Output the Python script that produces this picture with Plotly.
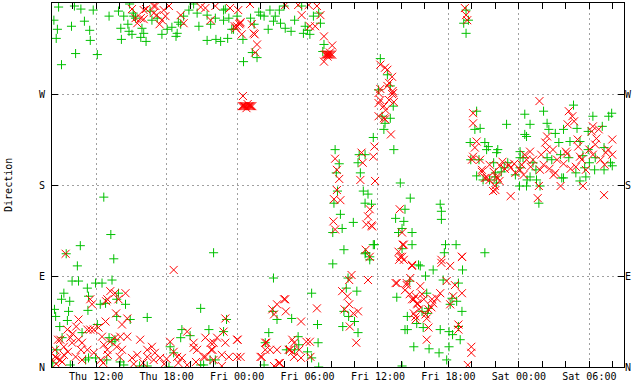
import plotly.graph_objects as go
import pandas as pd

# Thursday used as day zero; hours are counted from Thu 00:00
BASE = pd.Timestamp("2015-01-01")

# (hours since Thu 00:00, direction in degrees)
green_obs = [
    (8.8,356),(10.15,357),(10.7,354),(11.75,353),(8.4,343),(8.7,334),(8.6,325),(9.9,337),(11.0,342),(11.45,333),(11.5,323),(10.25,310),(12.1,309),(9.05,299),(13.1,347),(13.9,352),(14.35,347),(14.85,359),(14.7,339),(14.1,335),(14.8,332),(15.05,329),(14.15,324),(15.2,347),(15.8,326),(16.25,322),(16.05,330),(16.75,343),
    (15.15,350),(15.35,345),(15.9,335),(16.6,352),(17.2,345),(17.6,329),(18.05,334),(18.45,336),(18.9,330),(18.8,327),(19.2,339),(19.45,347),(19.9,353),(20.3,359),(20.6,350),(20.75,337),(21.45,348),(21.75,339),(21.45,323),(22.2,324),(22.6,322),(23.2,325),(22.85,343),(23.3,345),(23.0,354),(22.15,345),(23.55,334),(19.0,341),
    (22.85,353),(23.7,334),(24.0,347),(24.5,324),(25.15,345),(25.45,339),(25.85,351),(26.0,348),(26.3,347),(26.8,353),(26.65,334),(27.25,347),(27.1,342),(27.7,340),(28.1,335),(28.6,332),(28.9,343),(29.65,330),(30.0,333),(30.2,329),(29.8,337),(30.5,347),(30.95,350),(31.1,340),(25.7,306),(25.3,311),(24.55,302),(31.4,319),(31.3,312),(29.5,357),(28.0,357),(27.6,353),
    (36.2,305),(36.05,274),(36.8,289),(37.05,278),(37.3,258),(36.35,248),(37.05,246),(36.6,241),(36.5,235),(35.6,227),(37.35,215),
    (43.3,340),(43.7,343),(43.5,330),(43.5,353),(44.4,253),
    (32.35,215),(32.7,201),(32.45,192),(32.55,174),(32.25,162),(32.8,151),(32.95,137),(32.15,133),(33.1,116),(34.4,210),(34.9,210),(34.3,202),(34.5,192),(34.75,174),(35.15,171),(34.9,162),(35.45,161),(33.9,143),(35.6,121),(35.7,121),(34.9,112),(35.3,109),(37.9,182),(38.75,167),(38.3,156),(37.5,147),(38.2,144),(37.75,133),(38.9,133),(38.05,137),(38.9,121),(38.05,117),
    (41.3,161),(41.4,154),(41.4,146),(41.75,121),(42.65,121),(41.65,113),(45.1,113),
    (44.25,235),(44.7,236),(43.85,222),(45.1,222),(45.25,215),(44.6,205),(43.9,205),(45.85,202),(46.1,212),(46.0,192),(44.4,189),(45.5,185),
    (45.4,218),(46.2,215),(46.95,240),(48.1,213),(48.5,230),(48.65,228),(48.5,250),(48.95,240),(50.1,253),(50.4,241),(50.55,235),(51.1,231),(51.4,222),(51.8,235),(52.35,223),(52.65,259),(52.95,236),(53.2,223),(53.9,233),(54.3,248),(53.9,215),(55.1,238),(55.65,248),(55.9,251),(55.25,217),(55.8,202),(55.95,199),(55.25,195),(54.5,207),(53.7,188),(52.85,192),(51.8,187),(49.8,179),(49.5,185),(49.2,202),(48.35,207),(48.05,179),(48.65,179),(49.7,162),(49.45,195),(47.7,190),(48.1,197),(47.05,202),(46.75,197),(46.5,193),(45.95,188),(44.95,185),(46.1,182),(48.1,207),(50.4,207),(50.8,205),(51.55,210),(52.25,207),(53.45,209),(53.6,197),(54.0,202),(54.45,195),(53.2,184),(51.65,187),(48.7,185),(48.95,188),
    (8.45,57),(8.55,50),(9.05,67),(9.25,73),(9.75,65),(9.65,55),(9.55,46),(8.9,40),(9.1,29),(8.65,17),(10.4,100),(9.95,85),(10.5,85),(11.25,78),(11.35,70),(11.3,56),(11.95,83),(12.5,83),(13.35,86),(13.5,107),(13.9,73),(13.75,67),(12.8,63),(12.35,62),(14.5,62),(13.75,50),(14.9,47),(16.35,49),(12.1,42),(10.8,34),(11.35,9),(11.95,9),(11.1,7),(13.1,29),(13.35,25),(13.6,27),(12.9,7),(14.05,5),(14.35,2),(15.7,1),(16.35,1),(18.2,0),(19.2,29),(19.3,37),(20.0,31),(18.3,20),(18.6,14),(20.9,58),(21.6,37),(9.8,2),(8.3,4),(20.9,2),(21.7,7),(9.45,112),(10.65,120),(12.65,168),(13.25,131),(22.0,113),
    (23.1,47),(22.85,35),(27.05,55),(27.1,88),(27.4,47),(26.7,34),(26.4,24),(26.3,2),(28.65,48),(29.2,30),(29.25,22),(30.0,15),(30.35,9),(30.9,24),(30.95,0),(21.15,2),(22.15,7),(28.2,17),(28.9,17),(30.35,73),(30.85,42),(32.15,102),(33.45,88),(33.3,78),(34.2,75),(33.1,55),(33.5,50),(33.0,40),(34.0,45),(34.3,34),(34.95,113),(35.3,106),(37.6,69),(39.05,20),(38.5,37),(39.45,101),(38.7,85),
    (39.6,100),(40.05,90),(40.7,96),(41.55,86),(42.85,83),(43.2,96),(40.15,73),(42.3,68),(42.7,65),(42.15,62),(43.15,55),(39.75,55),(40.3,58),(40.2,53),(38.5,50),(39.3,43),(39.85,39),(38.3,37),(41.3,37),(42.05,35),(42.35,32),(42.85,40),(43.0,27),(40.35,18),(41.2,14),(42.05,20),(41.85,7),(38.05,1),
]

red_obs = [
    (15.05,354),(15.5,340),(16.05,344),(16.25,354),(16.9,357),(17.15,348),(17.4,339),(15.35,345),(16.05,353),(17.05,357),(16.9,350),(17.75,353),(18.2,357),(17.6,343),(17.9,347),(15.8,345),(19.2,348),(19.45,340),(20.9,356),(21.3,355),(22.15,357),(23.4,355),(21.75,343),(23.9,335),(24.0,337),
    (24.1,353),(25.1,359),(24.25,340),(24.3,341),(24.2,339),(23.8,337),(24.4,329),(25.4,330),(25.5,329),(25.7,319),(25.55,311),(25.25,339),(28.1,358),(29.2,358),(29.5,348),(30.1,358),(30.8,357),(31.1,348),(30.65,337),(30.2,337),(31.4,327),(32.1,318),(31.4,302),
    (31.5,309),(31.6,309),(31.7,309),(31.8,309),(31.9,309),(32.0,309),(32.1,309),(31.7,307),(31.9,311),
    (24.5,268),(24.4,258),(24.5,258),(24.6,258),(24.7,258),(24.8,258),(24.9,258),(25.0,258),(25.1,258),(25.2,258),(25.3,258),(24.8,256),(24.9,260),
    (36.2,299),(36.8,294),(37.2,287),(36.95,281),(37.3,271),(37.25,273),(37.2,270),(36.05,271),(36.2,264),(36.5,258),(36.05,261),(36.65,254),(36.95,264),(37.35,262),(36.5,246),(36.05,248),(36.2,275),(36.8,278),(36.6,296),(37.1,230),(36.6,245),
    (43.4,355),(43.5,348),(43.6,343),(44.1,251),
    (32.35,206),(32.5,195),(32.7,186),(32.5,175),(32.25,166),(32.8,165),(32.2,144),(32.35,136),(34.6,212),(34.7,202),(34.5,185),(35.75,184),(35.7,218),(35.6,208),(35.3,156),(35.15,149),(35.0,141),(35.45,140),(35.5,139),(34.95,116),(35.3,109),(37.85,156),(38.05,133),(38.2,121),(38.1,121),(37.75,114),(37.9,109),(41.4,106),(43.15,109),
    (44.1,241),(44.4,223),(44.25,217),(44.1,208),(44.7,205),(44.85,193),(45.5,200),(45.1,187),(45.85,193),(46.1,188),(46.0,175),(45.5,185),
    (44.0,205),(44.85,195),(45.25,187),(45.95,179),(45.8,174),(46.2,187),(46.35,184),(46.6,203),(47.15,200),(47.3,197),(48.1,195),(48.25,200),(47.7,192),(47.3,169),(48.95,213),(49.2,205),(49.8,195),(49.75,263),(49.6,167),(49.7,179),(50.4,228),(50.25,222),(50.35,215),(50.95,190),(51.25,205),(51.55,179),(51.1,192),(52.25,253),(52.55,248),(52.7,243),(52.15,240),(52.0,213),(52.1,211),(53.05,218),(53.2,208),(53.45,179),(52.85,198),(53.7,195),(54.3,210),(54.5,220),(54.95,205),(55.4,212),(55.95,225),(55.95,210),(55.25,170),(54.3,238),(54.2,233),(54.8,235),(53.35,205),(48.65,205),(48.5,210),
    (46.4,199),(46.8,196),(47.6,201),(48.4,190),(49.0,198),(50.1,200),(50.6,196),(51.8,201),(52.4,196),(54.0,215),(55.3,200),(55.6,215),(53.0,225),(54.6,226),(49.9,210),(50.9,215),
    (9.4,112),(18.6,96),(13.2,75),(13.6,73),(12.95,67),(12.85,65),(14.5,73),(13.9,67),(11.5,67),(11.65,62),(13.7,53),(14.65,48),(14.2,42),(12.8,45),(10.5,47),(11.25,37),(11.8,37),(12.2,39),(11.5,37),(9.55,37),(9.8,29),(8.95,27),(8.75,27),(9.25,20),(9.95,24),(10.5,27),(10.8,24),(11.25,17),(10.7,17),(8.5,17),(8.65,9),(8.5,10),(8.95,7),(9.25,12),(10.25,10),(10.8,7),(11.8,14),(12.65,22),(12.95,17),(12.4,7),(13.2,25),(13.6,29),(14.05,30),(14.65,30),(13.75,20),(14.2,17),(15.75,27),(16.35,17),(16.75,20),(15.05,9),(15.5,12),(16.35,10),(16.9,7),(17.45,9),(18.3,25),(18.6,15),(18.9,10),(19.3,9),(19.75,35),(20.3,24),(20.3,19),(20.6,17),(21.15,10),(21.75,24),(22.0,7),(20.5,5),(19.75,2),(21.3,29),(21.8,17),
    (8.6,3),(9.1,5),(9.6,15),(10.0,33),(10.3,40),(12.5,30),(13.0,12),(12.6,4),(14.0,10),(15.2,3),(16.0,4),(17.0,14),(17.8,3),(18.0,8),(19.0,4),
    (21.3,10),(21.9,17),(22.3,29),(22.0,24),(22.7,12),(23.3,10),(23.0,24),(22.7,1),(24.0,27),(24.3,10),(23.0,48),(22.85,35),(26.4,24),(26.5,24),(26.0,10),(26.1,10),(26.8,17),(27.55,4),(27.65,4),(27.4,17),(26.4,17),(27.15,1),(28.4,17),(28.5,17),(28.7,15),(28.85,24),(29.3,17),(28.85,10),(29.45,9),(29.9,25),(30.2,25),(30.25,10),(29.45,45),(28.7,27),(28.0,67),(28.1,67),(28.15,55),(27.15,52),(27.0,57),(27.4,62),(30.8,58),(24.05,27),(24.0,10),
    (32.95,75),(33.4,70),(33.55,62),(33.15,57),(33.9,53),(33.75,91),(33.55,86),(34.3,55),(34.15,24),(33.6,40),(35.15,86),(37.6,83),(37.5,83),(38.05,109),(37.8,106),(38.9,101),(38.75,88),(38.45,83),(39.2,70),(39.35,62),(39.05,53),(39.2,47),(38.9,67),
    (38.2,106),(38.9,100),(38.3,76),(39.6,80),(39.75,72),(39.05,67),(39.35,63),(39.9,67),(39.5,57),(39.2,50),(40.05,52),(40.3,57),(40.55,59),(40.7,63),(41.0,68),(41.3,73),(40.6,67),(40.15,48),(41.4,103),(42.15,100),(43.15,109),(41.85,85),(42.55,81),(42.4,70),(43.15,73),(42.15,62),(42.85,42),(42.85,37),(40.3,39),(40.15,27),(43.95,20),(43.95,14),(43.65,2),(38.45,81),(38.7,72),
]

dir_ticks = [0, 90, 180, 270, 360]
dir_labels = ["N", "E", "S", "W", "N"]
x_start_hours = 8.24
x_end_hours = 56.95


def to_time(hours):
    return [BASE + pd.Timedelta(hours=h) for h in hours]


green_hours = [p[0] for p in green_obs]
green_dir = [p[1] for p in green_obs]
red_hours = [p[0] for p in red_obs]
red_dir = [p[1] for p in red_obs]

FONT = dict(family="DejaVu Sans Mono", size=10, color="black")

fig = go.Figure()
fig.add_trace(go.Scatter(
    x=to_time(green_hours), y=green_dir, mode="markers",
    marker=dict(symbol="cross-thin", size=6.5, color="#00c000",
                line=dict(color="#00c000", width=1)),
    hoverinfo="skip", showlegend=False))
fig.add_trace(go.Scatter(
    x=to_time(red_hours), y=red_dir, mode="markers",
    marker=dict(symbol="x-thin", size=8, color="#ff0000",
                line=dict(color="#ff0000", width=1)),
    hoverinfo="skip", showlegend=False))
# anchor for the right-hand direction labels
fig.add_trace(go.Scatter(
    x=to_time([x_start_hours]), y=[0], yaxis="y2", mode="markers",
    marker=dict(opacity=0), hoverinfo="skip", showlegend=False))

fig.update_layout(
    width=640, height=384,
    margin=dict(l=52, r=16, t=3, b=17, autoexpand=False),
    paper_bgcolor="white", plot_bgcolor="white",
    font=FONT,
    xaxis=dict(
        type="date", automargin=False,
        range=to_time([x_start_hours, x_end_hours]),
        tickmode="linear", tick0=BASE, dtick=6 * 3600 * 1000,
        tickformat="%a %H:%M",
        ticks="inside", ticklen=6, tickcolor="black", tickwidth=1,
        showline=True, linecolor="black", linewidth=1, mirror="allticks",
        showgrid=True, gridcolor="#a0a0a0", gridwidth=1, griddash="2px,3px",
        zeroline=False, tickfont=FONT,
        minor=dict(dtick=2 * 3600 * 1000, tick0=BASE, ticks="inside", ticklen=4,
                   tickcolor="black", showgrid=False),
    ),
    yaxis=dict(
        automargin=False,
        range=[0, 360], tickmode="array", tickvals=dir_ticks, ticktext=dir_labels,
        ticks="inside", ticklen=6, tickcolor="black",
        showline=True, linecolor="black", linewidth=1, mirror="allticks",
        showgrid=True, gridcolor="#a0a0a0", gridwidth=1, griddash="2px,3px",
        zeroline=False, tickfont=FONT, ticklabelstandoff=4,
    ),
    yaxis2=dict(
        automargin=False,
        overlaying="y", side="right", range=[0, 360],
        tickmode="array", tickvals=dir_ticks, ticktext=dir_labels,
        ticks="", showline=False, showgrid=False, zeroline=False, tickfont=FONT,
    ),
    annotations=[dict(
        text="Direction", xref="paper", yref="paper", x=-0.077, y=0.5,
        xanchor="center", yanchor="middle", textangle=-90, showarrow=False,
        font=FONT,
    )],
)

fig.write_html(
    "out.html",
    config={"displayModeBar": False, "staticPlot": True},
    post_script="document.body.style.margin='0';document.body.style.overflow='hidden';",
)
